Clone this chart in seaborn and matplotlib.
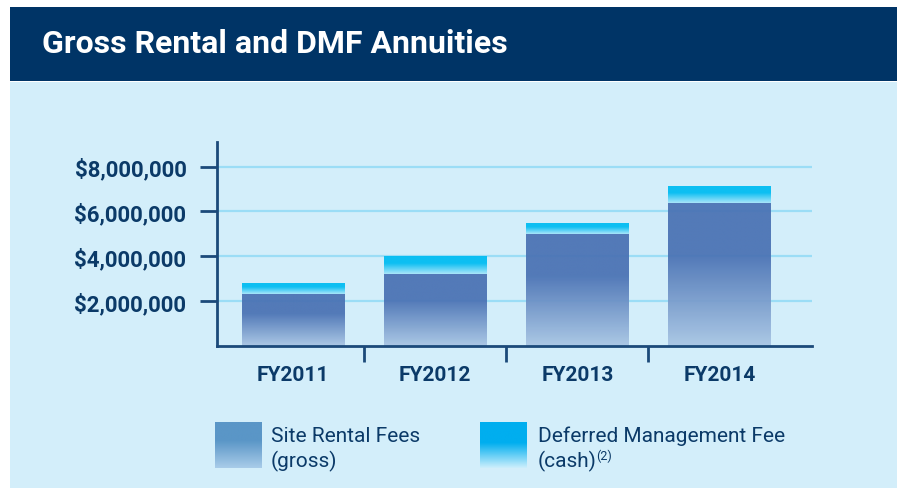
import numpy as np
import pandas as pd
import matplotlib
matplotlib.use("Agg")
import matplotlib.pyplot as plt
import seaborn as sns
from matplotlib.colors import to_rgb
from matplotlib.patches import Rectangle

# Data
years = ["FY2011", "FY2012", "FY2013", "FY2014"]
site_rental = [2310000, 3230000, 4980000, 6400000]
dmf_cash = [520000, 770000, 520000, 740000]
ytick_vals = [2000000, 4000000, 6000000, 8000000]
ytick_labels = ["$2,000,000", "$4,000,000", "$6,000,000", "$8,000,000"]

navy = "#003466"
text_navy = "#0B3A68"
axis_navy = "#1B4A7A"
panel_bg = "#D3EEFA"
grid_col = "#9BDDF6"

df = pd.DataFrame({"year": years, "rental": site_rental, "dmf": dmf_cash})
df["total"] = df["rental"] + df["dmf"]

sns.set_style("white")
plt.rcParams["font.family"] = ["Roboto", "DejaVu Sans"]

fig = plt.figure(figsize=(8.97, 4.89), dpi=100)
fig.patch.set_facecolor("white")

# header band and light panel (behind the axes)
fig.patches.append(Rectangle((10 / 897, 0), 887 / 897, 406 / 489, transform=fig.transFigure,
                             facecolor=panel_bg, edgecolor="none", zorder=-2))
fig.patches.append(Rectangle((10 / 897, 407 / 489), 887 / 897, 74 / 489, transform=fig.transFigure,
                             facecolor=navy, edgecolor="none", zorder=-2))
fig.text(42 / 897, 1 - 44 / 489, "Gross Rental and DMF Annuities", color="white",
         fontsize=23, fontweight="bold", va="center", ha="left")

ax = fig.add_axes([217 / 897, 142 / 489, 595 / 897, 204 / 489])
ax.set_facecolor("none")

# totals first (DMF shows above), rental drawn over it
sns.barplot(data=df, x="year", y="total", color="#00BCF2", width=0.72, ax=ax, zorder=2)
sns.barplot(data=df, x="year", y="rental", color="#4A72B4", width=0.72, ax=ax, zorder=3)


def gradient(top, bottom, solid_frac, n=256):
    t = np.linspace(0, 1, n)
    f = np.clip((t - solid_frac) / (1 - solid_frac), 0, 1)[:, None]
    arr = np.array(to_rgb(top)) * (1 - f) + np.array(to_rgb(bottom)) * f
    return arr[:, None, :]


def fill_bar(patch, y_lo, y_hi, top, bottom, solid_frac, z):
    x0, w = patch.get_x(), patch.get_width()
    im = ax.imshow(gradient(top, bottom, solid_frac), extent=[x0, x0 + w, y_lo, y_hi],
                   aspect="auto", origin="upper", interpolation="bilinear", zorder=z, alpha=0.94)
    im.set_clip_path(patch)
    patch.set_facecolor("none")
    patch.set_edgecolor("none")


total_bars = ax.containers[0]
rental_bars = ax.containers[1]
for i, (pt, pr) in enumerate(zip(total_bars, rental_bars)):
    fill_bar(pt, df["rental"][i], df["total"][i], "#00BCF2", "#A8E6FA", 0.4, 2)
    fill_bar(pr, 0, df["rental"][i], "#4A72B4", "#A9C6E4", 0.37, 3)

ax.set_xlim(-0.535, 3.65)
ax.set_ylim(0, 9100000)
ax.set_yticks(ytick_vals)
ax.set_yticklabels(ytick_labels)
ax.set_xticks(range(len(years)))
ax.set_xticks([0.5, 1.5, 2.5], minor=True)
ax.set_xlabel("")
ax.set_ylabel("")

ax.yaxis.grid(True, color=grid_col, linewidth=1.6, zorder=1)
ax.set_axisbelow(True)
ax.xaxis.grid(False)
sns.despine(ax=ax)
for side in ["left", "bottom"]:
    ax.spines[side].set_color(axis_navy)
    ax.spines[side].set_linewidth(2)
    ax.spines[side].set_zorder(5)

ax.tick_params(axis="y", direction="out", length=12, width=2, color=axis_navy, pad=10,
               labelsize=16, labelcolor=text_navy, left=True)
ax.tick_params(axis="x", which="major", length=0, pad=14, labelsize=15, labelcolor=text_navy)
ax.tick_params(axis="x", which="minor", direction="out", length=11.5, width=2, color=axis_navy, bottom=True)
for lab in ax.get_yticklabels() + ax.get_xticklabels():
    lab.set_fontweight("bold")

# legend swatches
for left, top, bottom, frac in [(215, "#5A96C7", "#A9CCE9", 0.4), (480, "#00AEEF", "#CDEFFC", 0.45)]:
    sw = fig.add_axes([left / 897, 20 / 489, 47 / 897, 46 / 489])
    sw.imshow(gradient(top, bottom, frac), aspect="auto", interpolation="bilinear")
    sw.axis("off")

fig.text(271 / 897, 1 - 442 / 489, "Site Rental Fees", fontsize=15, color=text_navy, va="baseline")
fig.text(271 / 897, 1 - 467 / 489, "(gross)", fontsize=15, color=text_navy, va="baseline")
fig.text(538 / 897, 1 - 442 / 489, "Deferred Management Fee", fontsize=15, color=text_navy, va="baseline")
cash = fig.text(538 / 897, 1 - 467 / 489, "(cash)", fontsize=15, color=text_navy, va="baseline")

# superscript note right after "(cash)"
fig.canvas.draw()
bb = cash.get_window_extent()
fig.text((bb.x1 - 1) / 897, (bb.y1 + 1) / 489, "(2)", fontsize=9, color=text_navy, va="top", ha="left")

plt.savefig("out.png", dpi=100)
plt.close()
